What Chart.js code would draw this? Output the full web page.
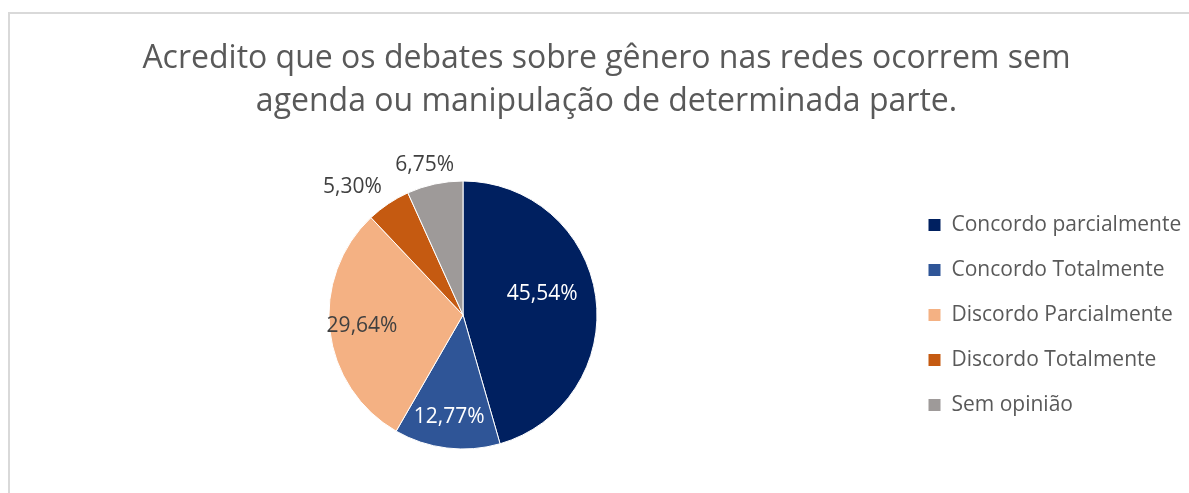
<!DOCTYPE html>
<html><head><meta charset="utf-8">
<script src="https://cdn.jsdelivr.net/npm/chart.js@4.4.1/dist/chart.umd.min.js"></script>
<style>
html,body{margin:0;padding:0;background:#fff;overflow:hidden;width:1189px;height:493px;}
#frame{position:absolute;left:8px;top:12px;width:1300px;height:600px;border-left:2px solid #d9d9d9;border-top:2px solid #d9d9d9;box-sizing:border-box;}
#wrap{position:absolute;left:0;top:0;width:1191px;height:493px;}
</style></head><body>
<div id="frame"></div>
<div id="wrap"><canvas id="c" width="1191" height="493"></canvas></div>
<script>
const categories = ['Concordo parcialmente','Concordo Totalmente','Discordo Parcialmente','Discordo Totalmente','Sem opinião'];
const values = [45.54, 12.77, 29.64, 5.30, 6.75];
const sliceColors = ['#002060','#2F5597','#F4B183','#C55A11','#9E9A99'];
const titleLines = ['Acredito que os debates sobre gênero nas redes ocorrem sem','agenda ou manipulação de determinada parte.'];

const FONT = "'Open Sans', sans-serif";
const labelStyle = {
  frac: [0.611, 0.77, 0.758, 1.264, 1.152],
  angleOffsetDeg: [-6.8, 0.8, 0.5, -6.9, -2.25],
  color: ['#ffffff','#ffffff','#404040','#404040','#404040']
};

const dataLabels = {
  id: 'dataLabels',
  afterDatasetsDraw(chart) {
    const ctx = chart.ctx;
    const meta = chart.getDatasetMeta(0);
    ctx.save();
    ctx.font = '21px ' + FONT;
    ctx.textAlign = 'center';
    ctx.textBaseline = 'middle';
    meta.data.forEach((arc, i) => {
      const p = arc.getProps(['x','y','startAngle','endAngle','outerRadius'], true);
      const a = (p.startAngle + p.endAngle) / 2 + labelStyle.angleOffsetDeg[i] * Math.PI / 180;
      const r = p.outerRadius * labelStyle.frac[i];
      const txt = values[i].toFixed(2).replace('.', ',') + '%';
      ctx.fillStyle = labelStyle.color[i];
      ctx.fillText(txt, p.x + r * Math.cos(a), p.y + r * Math.sin(a));
    });
    ctx.restore();
  }
};

new Chart(document.getElementById('c'), {
  type: 'pie',
  data: {
    labels: categories,
    datasets: [{
      data: values,
      backgroundColor: sliceColors,
      borderColor: '#ffffff',
      borderWidth: 1,
      hoverOffset: 0
    }]
  },
  options: {
    responsive: false,
    devicePixelRatio: 1,
    animation: false,
    radius: 134,
    layout: { padding: { left: 22, right: 0, top: 0, bottom: 44 } },
    plugins: {
      tooltip: { enabled: false },
      title: {
        display: true,
        text: titleLines,
        color: '#595959',
        font: { family: FONT, size: 32, weight: 'normal', lineHeight: 43/32 },
        padding: { top: 37, bottom: 58 }
      },
      legend: {
        position: 'right',
        fullSize: false,
        align: 'center',
        maxWidth: 287,
        labels: {
          boxWidth: 13,
          boxHeight: 13,
          padding: 24,
          color: '#595959',
          font: { family: FONT, size: 21 }
        }
      }
    }
  },
  plugins: [dataLabels]
});
</script>
</body></html>
